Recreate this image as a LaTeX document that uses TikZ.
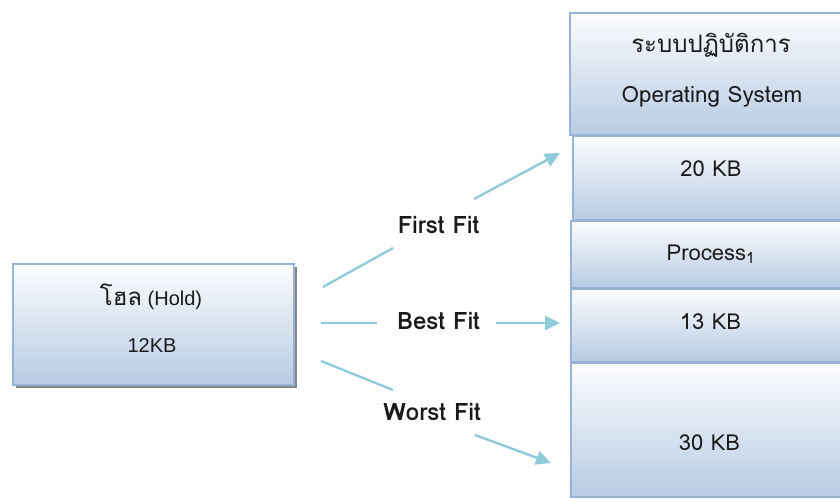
\documentclass[tikz,border=0pt]{standalone}
\usepackage{fontspec}
\newfontfamily\thaifont[Script=Thai]{Loma}
\newfontfamily\plainsans{Liberation Sans}
\usetikzlibrary{arrows.meta,shadows}
\definecolor{boxline}{HTML}{95B3D7}
\definecolor{boxtop}{HTML}{FCFDFE}
\definecolor{boxbottom}{HTML}{B7CBE3}
\definecolor{fitcolor}{HTML}{8FCCDB}
\definecolor{ink}{HTML}{1A1A1A}
\begin{document}
\begin{tikzpicture}[x=1pt,y=-1pt,
  membox/.style={draw=boxline, line width=1.8pt, top color=boxtop, bottom color=boxbottom,
    anchor=north west, inner sep=0pt},
  boxtext/.style={anchor=base, inner sep=0pt, text=ink, font=\thaifont\fontsize{22}{26}\selectfont},
  holdtext/.style={anchor=base, inner sep=0pt, text=ink, font=\plainsans\fontsize{20}{24}\selectfont},
  fitlabel/.style={anchor=base, inner sep=0pt, text=ink, font=\thaifont\bfseries\fontsize{24}{28}\selectfont},
  fitline/.style={draw=fitcolor, line width=2.4pt},
  fitarrow/.style={fitline, -{Triangle[length=15pt,width=14pt]}}]
\useasboundingbox (0,0) rectangle (840,498);

% the hole to be placed
\node[membox, minimum width=281pt, minimum height=121pt,
      drop shadow={shadow xshift=3pt, shadow yshift=-3pt, fill=black!60, opacity=0.8}] (hold) at (12,263) {};
\node[holdtext] (holdname) at (151,305) {{\thaifont\fontsize{24}{28}\selectfont โฮล} (Hold)};
\node[holdtext] (holdsize) at (152,352) {12KB};

% memory map
\node[membox, minimum width=281pt, minimum height=122pt] (os) at (569,12) {};
\node[membox, minimum width=278pt, minimum height=84pt] (free20) at (572,135) {};
\node[membox, minimum width=280pt, minimum height=67pt] (proc) at (570,220) {};
\node[membox, minimum width=280pt, minimum height=73pt] (free13) at (570,288) {};
\node[membox, minimum width=280pt, minimum height=134pt] (free30) at (570,362) {};

\node[boxtext, font=\thaifont\fontsize{24}{28}\selectfont] (osthai) at (711,52) {ระบบปฏิบัติการ};
\node[boxtext, font=\thaifont\fontsize{22.4}{26}\selectfont] (osname) at (712,102) {Operating System};
\node[boxtext] (t20) at (711,176) {20 KB};
\node[boxtext] (tproc) at (711,260) {Process\textsubscript{1}};
\node[boxtext] (t13) at (710.5,329) {13 KB};
\node[boxtext] (t30) at (709.5,450) {30 KB};

% placement strategies
\node[fitlabel] (first) at (438.5,233) {First Fit};
\node[fitlabel] (best) at (438.5,329) {Best Fit};
\node[fitlabel] (worst) at (432,420) {Worst Fit};

\coordinate (ffA) at (323,287);
\coordinate (ffB) at (393,248);
\coordinate (ffC) at (474,199);
\coordinate (ffD) at (560,153);
\coordinate (bfA) at (321,323);
\coordinate (bfB) at (377,323);
\coordinate (bfC) at (496,323);
\coordinate (bfD) at (560,323);
\coordinate (wfA) at (321,361);
\coordinate (wfB) at (393,390);
\coordinate (wfC) at (475,435);
\coordinate (wfD) at (551,463);

\draw[fitline] (ffA) -- (ffB);
\draw[fitarrow] (ffC) -- (ffD);
\draw[fitline] (bfA) -- (bfB);
\draw[fitarrow] (bfC) -- (bfD);
\draw[fitline] (wfA) -- (wfB);
\draw[fitarrow] (wfC) -- (wfD);
\end{tikzpicture}
\end{document}
